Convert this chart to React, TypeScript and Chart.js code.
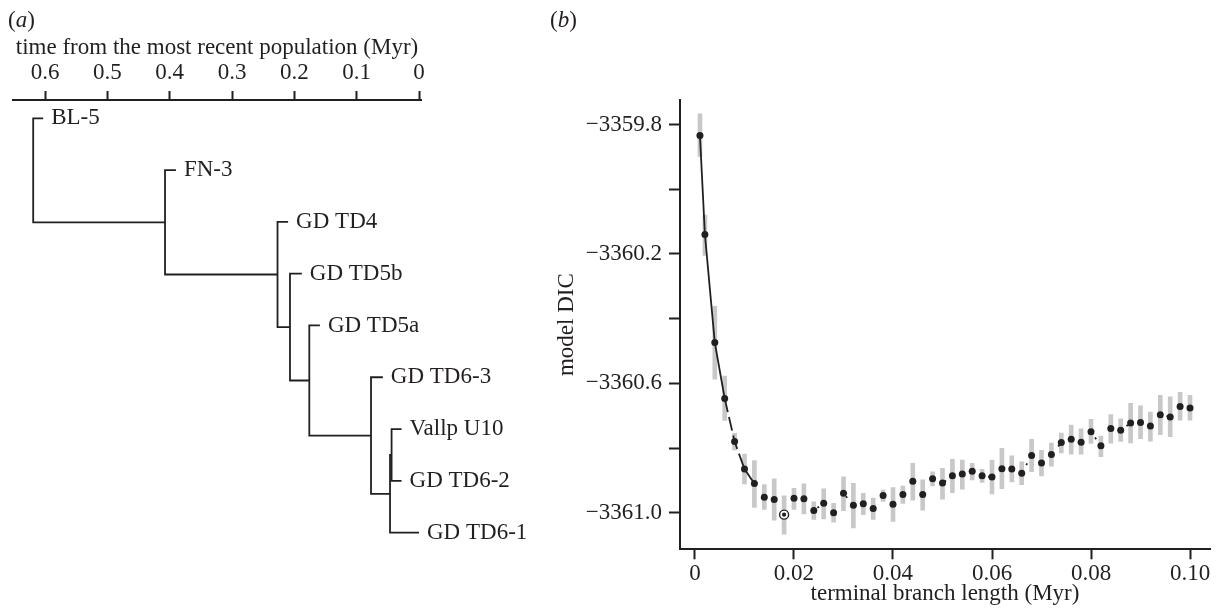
import React, { useEffect, useRef } from 'react';
import { Chart, registerables } from 'chart.js';

Chart.register(...registerables);

const FONT = '"Liberation Serif", "Times New Roman", serif';
const INK = '#231f20';
const BAR = '#c8c8c8';

// ---------- panel (a): tree ----------
const leafNames = ['BL-5', 'FN-3', 'GD TD4', 'GD TD5b', 'GD TD5a', 'GD TD6-3', 'Vallp U10', 'GD TD6-2', 'GD TD6-1'];
const leafTipTimes = [0.603, 0.39, 0.21, 0.188, 0.159, 0.058, 0.028, 0.028, 0.0];
const nodeTimes = [0.619, 0.4075, 0.227, 0.207, 0.176, 0.077, 0.0465, 0.044];
const nodeChildren = [
  ['L0', 'N1'],
  ['L1', 'N2'],
  ['L2', 'N3'],
  ['L3', 'N4'],
  ['L4', 'N5'],
  ['L5', 'N6'],
  ['N7', 'L8'],
  ['L6', 'L7'],
];
const treeTicks = [0, 0.1, 0.2, 0.3, 0.4, 0.5, 0.6];

// ---------- panel (b): DIC vs terminal branch length ----------
const branchLengths = [
  0.001, 0.002, 0.004, 0.006, 0.008, 0.010, 0.012, 0.014, 0.016, 0.018,
  0.020, 0.022, 0.024, 0.026, 0.028, 0.030, 0.032, 0.034, 0.036, 0.038,
  0.040, 0.042, 0.044, 0.046, 0.048, 0.050, 0.052, 0.054, 0.056, 0.058,
  0.060, 0.062, 0.064, 0.066, 0.068, 0.070, 0.072, 0.074, 0.076, 0.078,
  0.080, 0.082, 0.084, 0.086, 0.088, 0.090, 0.092, 0.094, 0.096, 0.098,
  0.100,
];
const dicValues = [
  -3359.834, -3360.140, -3360.474, -3360.647, -3360.780, -3360.865, -3360.910, -3360.952, -3360.959, -3361.006,
  -3360.955, -3360.957, -3360.993, -3360.971, -3361.000, -3360.940, -3360.977, -3360.972, -3360.987, -3360.947,
  -3360.974, -3360.944, -3360.903, -3360.944, -3360.895, -3360.908, -3360.886, -3360.880, -3360.872, -3360.886,
  -3360.890, -3360.864, -3360.865, -3360.878, -3360.823, -3360.846, -3360.820, -3360.783, -3360.773, -3360.782,
  -3360.750, -3360.793, -3360.740, -3360.745, -3360.723, -3360.721, -3360.732, -3360.697, -3360.704, -3360.672,
  -3360.676,
];
const dicLower = [
  -3359.899, -3360.205, -3360.587, -3360.715, -3360.806, -3360.911, -3360.984, -3360.990, -3361.023, -3361.066,
  -3360.990, -3361.004, -3361.021, -3361.019, -3361.029, -3360.994, -3361.047, -3361.006, -3361.021, -3360.965,
  -3361.027, -3360.971, -3360.961, -3360.992, -3360.917, -3360.958, -3360.938, -3360.927, -3360.899, -3360.906,
  -3360.942, -3360.926, -3360.905, -3360.913, -3360.873, -3360.886, -3360.856, -3360.815, -3360.819, -3360.819,
  -3360.786, -3360.827, -3360.785, -3360.780, -3360.784, -3360.771, -3360.779, -3360.759, -3360.765, -3360.714,
  -3360.714,
];
const dicUpper = [
  -3359.767, -3360.080, -3360.362, -3360.578, -3360.755, -3360.819, -3360.839, -3360.913, -3360.895, -3360.948,
  -3360.925, -3360.911, -3360.966, -3360.926, -3360.971, -3360.889, -3360.909, -3360.940, -3360.955, -3360.930,
  -3360.922, -3360.918, -3360.847, -3360.898, -3360.874, -3360.863, -3360.835, -3360.837, -3360.847, -3360.866,
  -3360.837, -3360.801, -3360.824, -3360.843, -3360.773, -3360.807, -3360.785, -3360.754, -3360.729, -3360.741,
  -3360.711, -3360.763, -3360.697, -3360.710, -3360.662, -3360.670, -3360.689, -3360.637, -3360.642, -3360.628,
  -3360.637,
];
const xTicks = [0, 0.02, 0.04, 0.06, 0.08, 0.1];
const yTicks = [-3361.0, -3360.8, -3360.6, -3360.4, -3360.2, -3360.0, -3359.8];
const yLabelled = [-3361.0, -3360.6, -3360.2, -3359.8];

// ---------- helpers ----------
function refIndex(ref: string) {
  return Number(ref.slice(1));
}
function nodeY(ref: string): number {
  if (ref[0] === 'L') return refIndex(ref);
  const [a, b] = nodeChildren[refIndex(ref)];
  return (nodeY(a) + nodeY(b)) / 2;
}
function nodeT(ref: string): number {
  return ref[0] === 'L' ? leafTipTimes[refIndex(ref)] : nodeTimes[refIndex(ref)];
}

const fmtMinus = (v: number, d: number) => (v < 0 ? '\u2212' : '') + Math.abs(v).toFixed(d);

function TreePanel() {
  const ref = useRef<HTMLCanvasElement | null>(null);
  useEffect(() => {
    const canvas = ref.current!;
    const datasets = nodeChildren.map(([a, b], k) => {
      const t = nodeTimes[k];
      const ya = nodeY(a);
      const yb = nodeY(b);
      return {
        type: 'scatter' as const,
        showLine: true,
        data: [
          { x: nodeT(a), y: ya },
          { x: t, y: ya },
          { x: t, y: yb },
          { x: nodeT(b), y: yb },
        ],
        borderColor: INK,
        borderWidth: 1.8,
        pointRadius: 0,
        borderJoinStyle: 'miter' as const,
        clip: false as any,
      };
    });
    const leafLabelPlugin = {
      id: 'leafLabels',
      afterDatasetsDraw(chart: any) {
        const { ctx, scales } = chart;
        ctx.save();
        ctx.font = `23px ${FONT}`;
        ctx.fillStyle = INK;
        ctx.textAlign = 'left';
        ctx.textBaseline = 'middle';
        leafNames.forEach((name, i) => {
          ctx.fillText(name, scales.x.getPixelForValue(leafTipTimes[i]) + 8, scales.y.getPixelForValue(i));
        });
        ctx.restore();
      },
    };
    const chart = new Chart(canvas, {
      type: 'scatter',
      data: { datasets },
      plugins: [leafLabelPlugin],
      options: {
        responsive: false,
        animation: false,
        events: [],
        layout: { padding: { left: 13, right: 119, top: 0, bottom: 16 } },
        plugins: { legend: { display: false }, tooltip: { enabled: false } },
        scales: {
          x: {
            type: 'linear',
            position: 'top',
            reverse: true,
            min: -0.0032,
            max: 0.6514,
            afterBuildTicks: (s: any) => {
              s.ticks = treeTicks.map((v) => ({ value: v }));
            },
            afterFit: (s: any) => {
              s.height = 100;
            },
            ticks: {
              color: INK,
              font: { family: FONT, size: 23 },
              padding: 4,
              maxRotation: 0,
              autoSkip: false,
              callback: (v: any) => (Number(v) === 0 ? '0' : Number(v).toFixed(1)),
            },
            grid: { drawOnChartArea: false, drawTicks: true, tickLength: 9, tickWidth: 2, tickColor: INK },
            border: { display: true, color: INK, width: 2 },
            title: {
              display: true,
              text: 'time from the most recent population (Myr)',
              color: INK,
              font: { family: FONT, size: 23 },
              padding: { top: 34, bottom: 0 },
            },
          },
          y: {
            type: 'linear',
            display: false,
            reverse: true,
            min: -0.353,
            max: 9.3,
          },
        },
      },
    });
    return () => chart.destroy();
  }, []);
  return <canvas ref={ref} width={540} height={616} style={{ position: 'absolute', left: 0, top: 0 }} />;
}

function DicPanel() {
  const ref = useRef<HTMLCanvasElement | null>(null);
  useEffect(() => {
    const canvas = ref.current!;
    let best = 0;
    dicValues.forEach((v, i) => {
      if (v < dicValues[best]) best = i;
    });
    const pts = branchLengths.map((x, i) => ({ x, y: dicValues[i] }));
    const bars = branchLengths.map((x, i) => ({ x, y: [dicLower[i], dicUpper[i]] }));
    const chart = new Chart(canvas, {
      type: 'scatter',
      data: {
        datasets: [
          {
            type: 'scatter',
            data: pts,
            backgroundColor: INK,
            borderWidth: 0,
            pointRadius: (c: any) => (c.dataIndex === best ? 2.1 : 3.5),
            order: 0,
          } as any,
          {
            type: 'scatter',
            data: [pts[best]],
            backgroundColor: '#ffffff',
            borderColor: INK,
            borderWidth: 1.4,
            pointRadius: 4.5,
            order: 1,
          } as any,
          {
            type: 'line',
            data: pts,
            borderColor: INK,
            borderWidth: 1.8,
            pointRadius: 0,
            tension: 0,
            segment: {
              borderDash: (c: any) => {
                const x0 = c.p0.parsed.x;
                if (x0 < 0.0055) return [];
                if (x0 < 0.0105) return [14, 5];
                return [2, 45];
              },
            },
            order: 2,
          } as any,
          {
            type: 'bar',
            data: bars,
            backgroundColor: BAR,
            borderWidth: 0,
            barThickness: 4,
            grouped: false,
            order: 3,
          } as any,
        ],
      },
      options: {
        responsive: false,
        animation: false,
        events: [],
        layout: { padding: { left: 0, right: 9, top: 100, bottom: 0 } },
        plugins: { legend: { display: false }, tooltip: { enabled: false } },
        scales: {
          x: {
            type: 'linear',
            position: 'bottom',
            offset: false,
            min: -0.00303,
            max: 0.10404,
            afterBuildTicks: (s: any) => {
              s.ticks = xTicks.map((v) => ({ value: v }));
            },
            afterFit: (s: any) => {
              s.height = 66.7;
            },
            ticks: {
              color: INK,
              font: { family: FONT, size: 23 },
              padding: 1,
              maxRotation: 0,
              autoSkip: false,
              callback: (v: any) => (Number(v) === 0 ? '0' : Number(v).toFixed(2)),
            },
            grid: {
              offset: false,
              drawOnChartArea: false,
              drawTicks: true,
              tickLength: 10,
              tickWidth: 2,
              tickColor: INK,
            },
            border: { display: true, color: INK, width: 2 },
            title: {
              display: true,
              text: 'terminal branch length (Myr)',
              color: INK,
              font: { family: FONT, size: 23 },
              padding: { top: 0, bottom: 8 },
            },
          },
          y: {
            type: 'linear',
            position: 'left',
            beginAtZero: false,
            min: -3361.1131,
            max: -3359.7243,
            afterBuildTicks: (s: any) => {
              s.ticks = yTicks.map((v) => ({ value: v }));
            },
            afterFit: (s: any) => {
              s.width = 140;
            },
            ticks: {
              color: INK,
              font: { family: FONT, size: 23 },
              padding: 7,
              autoSkip: false,
              callback: (v: any) => {
                const n = Number(v);
                return yLabelled.some((l) => Math.abs(l - n) < 1e-6) ? fmtMinus(n, 1) : '';
              },
            },
            grid: { offset: false, drawOnChartArea: false, drawTicks: true, tickLength: 11, tickWidth: 2, tickColor: INK },
            border: { display: true, color: INK, width: 2 },
            title: {
              display: true,
              text: 'model DIC',
              color: INK,
              font: { family: FONT, size: 23 },
              padding: { top: 13, bottom: 0 },
            },
          },
        },
      },
    });
    return () => chart.destroy();
  }, []);
  return <canvas ref={ref} width={679} height={616} style={{ position: 'absolute', left: 540, top: 0 }} />;
}

const panelLabel: React.CSSProperties = {
  position: 'absolute',
  top: 6,
  fontFamily: FONT,
  fontSize: 23,
  lineHeight: '27px',
  color: INK,
};

export default function App() {
  return (
    <div style={{ position: 'fixed', left: 0, top: 0, width: 1219, height: 616, background: '#fff', overflow: 'hidden' }}>
      <TreePanel />
      <DicPanel />
      <div style={{ ...panelLabel, left: 8 }}>
        (<i>a</i>)
      </div>
      <div style={{ ...panelLabel, left: 550 }}>
        (<i>b</i>)
      </div>
    </div>
  );
}
